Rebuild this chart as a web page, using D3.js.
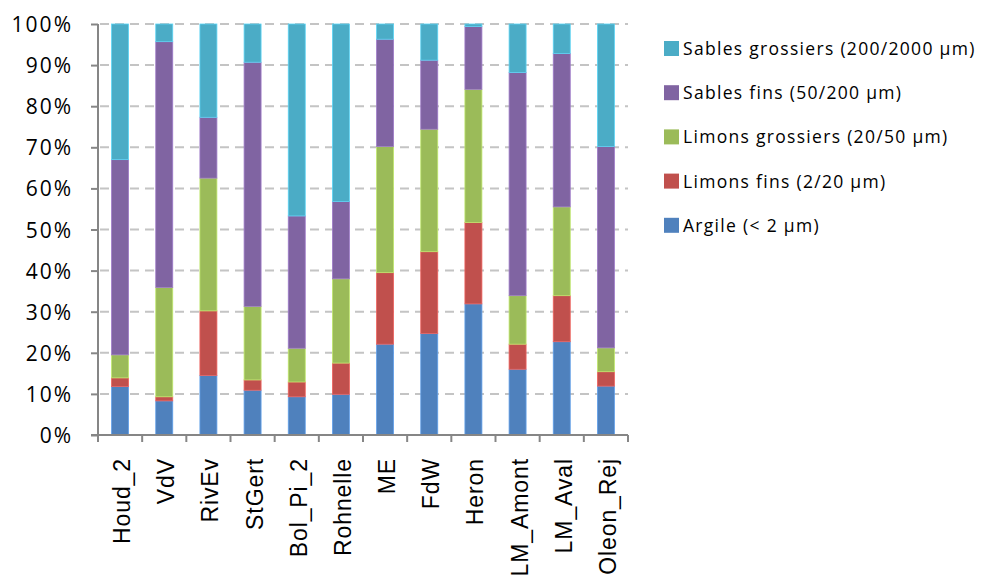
<!DOCTYPE html>
<html>
<head>
<meta charset="utf-8">
<script src="https://cdn.jsdelivr.net/npm/d3@7"></script>
<style>
  body { margin: 0; background: #fff; }
  text { font-family: "Open Sans", sans-serif; fill: #000; }
  .xlab { font-family: "Liberation Sans", Arial, sans-serif; }
</style>
</head>
<body>
<svg id="chart" width="981" height="581"></svg>
<script>
// Sites (x categories)
const sites = ["Houd_2", "VdV", "RivEv", "StGert", "Bol_Pi_2", "Rohnelle",
               "ME", "FdW", "Heron", "LM_Amont", "LM_Aval", "Oleon_Rej"];

// Fractions in %, bottom to top
const argile          = [11.8,  8.3, 14.5, 10.9,  9.3,  9.9, 22.1, 24.7, 31.9, 16.0, 22.7, 11.9];
const limonsFins      = [ 2.1,  1.0, 15.7,  2.5,  3.6,  7.6, 17.4, 19.9, 19.8,  6.1, 11.2,  3.5];
const limonsGrossiers = [ 5.6, 26.6, 32.3, 17.9,  8.2, 20.5, 30.7, 29.8, 32.4, 11.8, 21.6,  5.8];
const sablesFins      = [47.5, 59.8, 14.8, 59.4, 32.2, 18.8, 26.1, 16.8, 15.3, 54.3, 37.3, 49.0];
const sablesGrossiers = [33.0,  4.3, 22.7,  9.3, 46.7, 43.2,  3.7,  8.8,  0.6, 11.8,  7.2, 29.8];

const seriesNames = ["Argile (< 2 µm)", "Limons fins (2/20 µm)", "Limons grossiers (20/50 µm)",
                     "Sables fins (50/200 µm)", "Sables grossiers (200/2000 µm)"];
const seriesValues = [argile, limonsFins, limonsGrossiers, sablesFins, sablesGrossiers];
const seriesColors = ["#4F81BD", "#C0504D", "#9BBB59", "#8064A2", "#4BACC6"];
const yTicks = [0, 10, 20, 30, 40, 50, 60, 70, 80, 90, 100];

const svg = d3.select("#chart");
const margin = {left: 98, right: 353, top: 24, bottom: 146};
const width = 981 - margin.left - margin.right;
const height = 581 - margin.top - margin.bottom;

const g = svg.append("g").attr("transform", `translate(${margin.left},${margin.top})`);

const x = d3.scaleBand().domain(sites).range([0, width]);
const y = d3.scaleLinear().domain([0, 100]).range([height, 0]);
const barWidth = 17;

// dashed gridlines
g.selectAll("line.grid")
  .data(yTicks.filter(d => d > 0))
  .enter().append("line")
  .attr("class", "grid")
  .attr("x1", 2).attr("x2", width)
  .attr("y1", d => y(d)).attr("y2", d => y(d))
  .attr("stroke", "#C4C4C4")
  .attr("stroke-width", 2)
  .attr("stroke-dasharray", "9,6");

// stack the rows
const rows = sites.map((s, i) => {
  const r = {site: s};
  seriesNames.forEach((n, k) => r[n] = seriesValues[k][i]);
  return r;
});
const stacked = d3.stack().keys(seriesNames)(rows);

const color = d3.scaleOrdinal().domain(seriesNames).range(seriesColors);

g.selectAll("g.layer")
  .data(stacked)
  .enter().append("g")
  .attr("class", "layer")
  .attr("fill", d => color(d.key))
  .attr("stroke", d => d3.color(color(d.key)).brighter(0.6))
  .attr("stroke-width", 0.8)
  .selectAll("rect")
  .data(d => d)
  .enter().append("rect")
  .attr("x", d => x(d.data.site) + (x.bandwidth() - barWidth) / 2)
  .attr("width", barWidth)
  .attr("y", d => y(d[1]))
  .attr("height", d => y(d[0]) - y(d[1]));

// y axis
const yAxis = d3.axisLeft(y)
  .tickValues(yTicks)
  .tickFormat(d => d + "%")
  .tickSize(7)
  .tickPadding(18);

const yg = g.append("g").call(yAxis);
yg.select(".domain").attr("stroke", "#868686").attr("stroke-width", 2)
  .attr("d", `M0,${height + 7}V0`);
yg.selectAll(".tick line").attr("stroke", "#868686").attr("stroke-width", 2);
yg.selectAll(".tick text")
  .style("font-family", "'Open Sans', sans-serif")
  .style("font-size", "21px")
  .style("letter-spacing", "2px")
  .attr("dy", "0.36em");

// x axis, ticks between the categories
const xg = g.append("g").attr("transform", `translate(0,${height})`);
xg.append("line")
  .attr("x1", -7).attr("x2", width)
  .attr("stroke", "#868686").attr("stroke-width", 2);
xg.selectAll("line.tk")
  .data(d3.range(sites.length + 1))
  .enter().append("line")
  .attr("class", "tk")
  .attr("x1", i => i * x.step()).attr("x2", i => i * x.step())
  .attr("y1", 0).attr("y2", 7)
  .attr("stroke", "#868686").attr("stroke-width", 2);
xg.selectAll("text")
  .data(sites)
  .enter().append("text")
  .attr("class", "xlab")
  .attr("transform", d => `translate(${x(d) + x.bandwidth() / 2 + 10},23) rotate(-90)`)
  .attr("text-anchor", "end")
  .style("font-size", "23px")
  .style("letter-spacing", "0.9px")
  .text(d => d);

// legend (top item = top of stack)
const legend = svg.append("g").attr("transform", "translate(664,41)");
const items = legend.selectAll("g")
  .data(seriesNames.slice().reverse())
  .enter().append("g")
  .attr("transform", (d, i) => `translate(0,${i * 44.2})`);
items.append("rect")
  .attr("width", 15).attr("height", 15)
  .attr("fill", d => color(d));
items.append("text")
  .attr("x", 19).attr("y", 14)
  .style("font-size", "17.5px")
  .style("letter-spacing", "1.3px")
  .text(d => d);
</script>
</body>
</html>
